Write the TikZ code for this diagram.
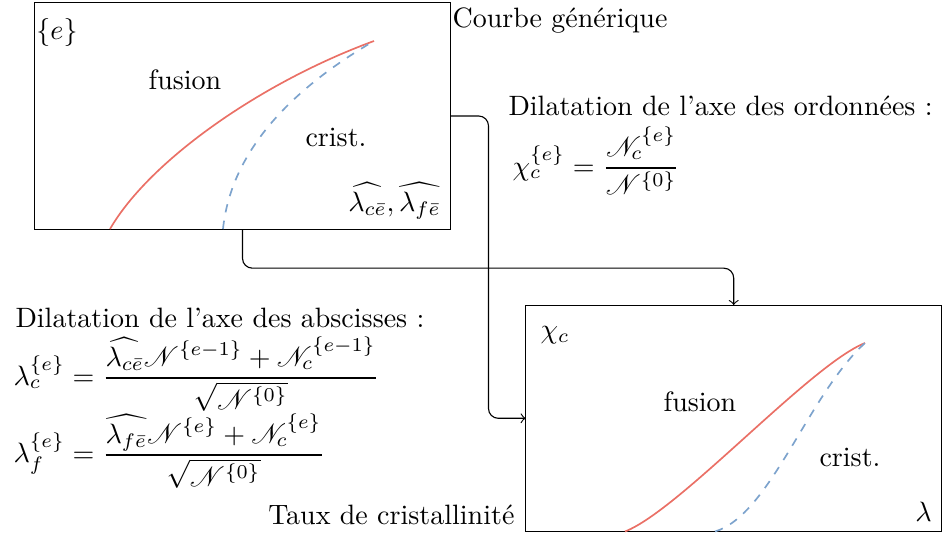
\documentclass[tikz,border=0pt]{standalone}
\usepackage{amsmath}
\usepackage{mathrsfs}
\definecolor{cfus}{RGB}{234,112,102}
\definecolor{ccri}{RGB}{125,163,205}
\begin{document}
\begin{tikzpicture}[x=0.357pt,y=-0.357pt,
  panel/.style={draw,inner sep=0pt,outer sep=0pt,minimum width=148.5pt,minimum height=80.8pt},
  fuscurve/.style={cfus,semithick},
  cricurve/.style={ccri,semithick,dashed},
  conn/.style={->,rounded corners=3.5pt},
  txt/.style={inner sep=0pt}]
\useasboundingbox (0,0) rectangle (948,535);
% panels
\node[panel] (b1) at (242.5,116) {};
\node[panel] (b2) at (733.7,418.3) {};
% curves panel 1
\draw[fuscurve] (110,229) .. controls (150,160) and (262,82) .. (374,41);
\draw[cricurve] (223,229) .. controls (231,152) and (290,90) .. (374,41);
% curves panel 2
\draw[fuscurve] (625,531.5) .. controls (680,510) and (810,365) .. (865,343);
\draw[cricurve] (715,531.5) .. controls (770,515) and (808,395) .. (865,343);
% labels panel 1
\node[txt] (e1) at (57,32) {$\{e\}$};
\node[txt,anchor=base] (f1) at (185,89) {fusion};
\node[txt,anchor=base] (c1) at (336,146) {crist.};
\node[anchor=south east] (l1) at (b1.south east) {$\widehat{\lambda_{c\bar{e}}},\widehat{\lambda_{f\bar{e}}}$};
% labels panel 2
\node[txt] (x2) at (555,335) {$\chi_c$};
\node[txt,anchor=base] (f2) at (700,411) {fusion};
\node[txt,anchor=base] (c2) at (850,466) {crist.};
\node[anchor=south east] (l2) at (b2.south east) {$\lambda$};
% titles
\node[txt,anchor=base west] (t1) at (452,27) {Courbe générique};
\node[txt,anchor=base east] (t2) at (515,524) {Taux de cristallinité};
% ordinates
\node[txt,anchor=base west] (o1) at (508,115) {Dilatation de l'axe des ordonnées :};
\node[txt,anchor=base west] (o2) at (512,175) {$\chi_c^{\{e\}} = \dfrac{\mathscr{N}_c^{\{e\}}}{\mathscr{N}^{\{0\}}}$};
% abscissae
\node[txt,anchor=base west] (a1) at (15,327) {Dilatation de l'axe des abscisses :};
\node[txt,anchor=base west] (a2) at (13,385) {$\lambda_c^{\{e\}} = \dfrac{\widehat{\lambda_{c\bar{e}}}\mathscr{N}^{\{e-1\}} + \mathscr{N}_c^{\{e-1\}}}{\sqrt{\mathscr{N}^{\{0\}}}}$};
\node[txt,anchor=base west] (a3) at (13,462) {$\lambda_f^{\{e\}} = \dfrac{\widehat{\lambda_{f\bar{e}}}\mathscr{N}^{\{e\}} + \mathscr{N}_c^{\{e\}}}{\sqrt{\mathscr{N}^{\{0\}}}}$};
% connectors
\draw[conn] (b1.east) -- ++(38,0) |- (b2.west);
\draw[conn] (b1.south) -- ++(0,39) -| (b2.north);
\end{tikzpicture}
\end{document}
